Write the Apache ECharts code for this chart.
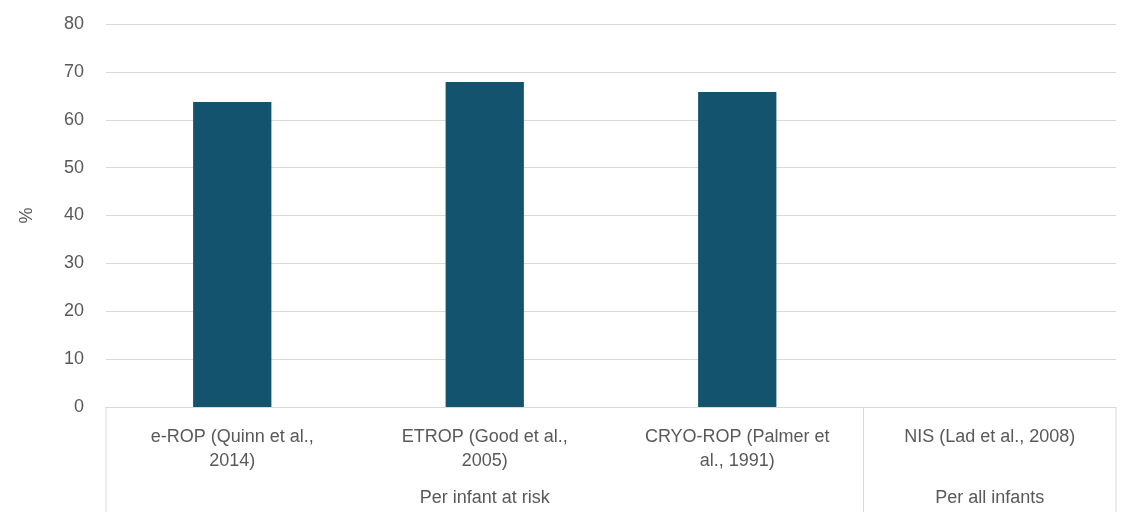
<!DOCTYPE html><html><head><meta charset="utf-8"><script src="https://cdn.jsdelivr.net/npm/echarts@6/dist/echarts.min.js"></script></head><body style="margin:0"><div id="c" style="width:1140px;height:521px"></div><script>
const categories=['e-ROP (Quinn et al.,\n2014)','ETROP (Good et al.,\n2005)','CRYO-ROP (Palmer et\nal., 1991)','NIS (Lad et al., 2008)'];
const values=[63.7,67.9,65.8,null];
const groups=[{name:'Per infant at risk',from:0,to:3},{name:'Per all infants',from:3,to:4}];
const yTicks={min:0,max:80,interval:10};
const F='Liberation Sans, Arial, sans-serif',C='#595959';
const ch=echarts.init(document.getElementById('c'));
ch.setOption({animation:false,
grid:{left:106,right:24,top:24,bottom:114},
xAxis:{type:'category',data:categories,axisTick:{show:false},axisLine:{lineStyle:{color:'#d9d9d9'}},axisLabel:{color:C,fontFamily:F,fontSize:18,lineHeight:24,margin:18,interval:0}},
yAxis:{type:'value',min:yTicks.min,max:yTicks.max,interval:yTicks.interval,name:'%',nameLocation:'middle',nameGap:70,nameTextStyle:{color:C,fontFamily:F,fontSize:18},axisLabel:{color:C,fontFamily:F,fontSize:18,margin:22},splitLine:{lineStyle:{color:'#d9d9d9'}}},
series:[{type:'bar',data:values,barWidth:'31%',itemStyle:{color:'#14536e'}}]});
const y0=ch.convertToPixel({yAxisIndex:0},0);
const left=106,w=(1140-24-106)/categories.length;
const g=[];
const bounds=new Set();groups.forEach(gr=>{bounds.add(gr.from);bounds.add(gr.to);});
bounds.forEach(b=>g.push({type:'line',shape:{x1:left+b*w,y1:y0,x2:left+b*w,y2:512},style:{stroke:'#d9d9d9',lineWidth:1}}));
groups.forEach(gr=>g.push({type:'text',x:left+(gr.from+gr.to)/2*w,y:498,style:{text:gr.name,fill:C,font:'18px '+F,textAlign:'center',textVerticalAlign:'middle'}}));
ch.setOption({graphic:g});
</script></body></html>
